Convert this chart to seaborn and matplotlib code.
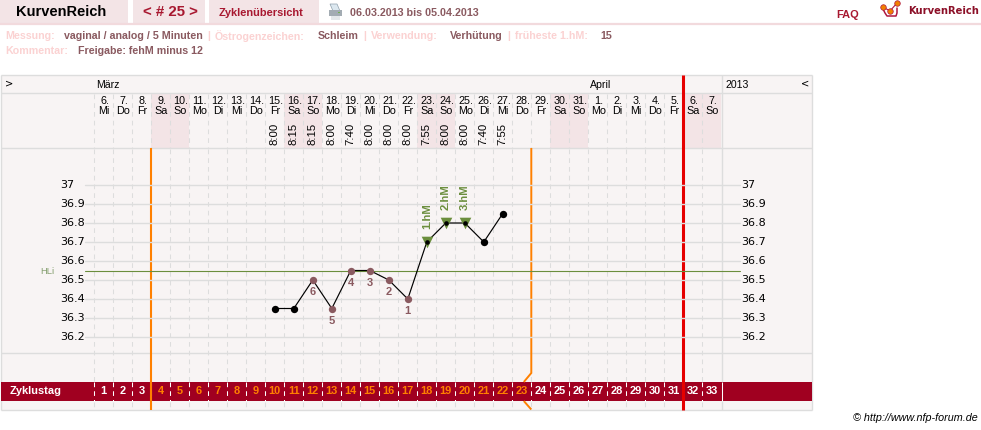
import matplotlib
matplotlib.use("Agg")
import matplotlib.pyplot as plt
import matplotlib.transforms as mtrans
from matplotlib.patches import Rectangle, Polygon
import pandas as pd
import seaborn as sns

sns.set_theme(style="white")
plt.rcParams["font.family"] = ["Liberation Sans", "DejaVu Sans"]

# Cycle chart values
cycle_days = list(range(1, 34))
dates = [6, 7, 8, 9, 10, 11, 12, 13, 14, 15, 16, 17, 18, 19, 20, 21, 22, 23, 24, 25, 26, 27, 28, 29, 30, 31,
         1, 2, 3, 4, 5, 6, 7]
weekdays = ["Mi", "Do", "Fr", "Sa", "So", "Mo", "Di"] * 4 + ["Mi", "Do", "Fr", "Sa", "So"]
measured_days = [10, 11, 12, 13, 14, 15, 16, 17, 18, 19, 20, 21, 22]
temperatures = [36.35, 36.35, 36.5, 36.35, 36.55, 36.55, 36.5, 36.4, 36.7, 36.8, 36.8, 36.7, 36.85]
times = ["8:00", "8:15", "8:15", "8:00", "7:40", "8:00", "8:00", "8:00", "7:55", "8:00", "8:00", "7:40", "7:55"]
kinds = ["plain", "plain", "low", "low", "low", "low", "low", "low", "high", "high", "high", "plain", "plain"]
low_labels = {12: "6", 13: "5", 14: "4", 15: "3", 16: "2", 17: "1"}
high_labels = {18: "1.hM", 19: "2.hM", 20: "3.hM"}
cover_line = 36.55
temp_ticks = [37, 36.9, 36.8, 36.7, 36.6, 36.5, 36.4, 36.3, 36.2]
first_fertile, last_fertile = 4, 23
cycle_end = 31

W, H = 981, 430
GRID = "#dddddd"
PANEL = "#f8f4f4"
PINK = "#f3e4e6"
BAND = "#a00020"
ORANGE = "#ff8000"
RED = "#e60000"
GREEN = "#6b8e3d"
BROWN = "#8a5a60"
FAINT = "#fbd2d2"
NARROW = ["Liberation Sans Narrow", "Liberation Sans"]
DASH = (0, (4.5, 3.9))

fig = plt.figure(figsize=(W / 100, H / 100), dpi=100)

# Page furniture lives on a pixel-scaled layer
page = fig.add_axes([0, 0, 1, 1], zorder=0)
page.set_xlim(0, W)
page.set_ylim(H, 0)
page.axis("off")


def box(x0, y0, x1, y1, color, z=1):
    page.add_patch(Rectangle((x0, y0), x1 - x0, y1 - y0, fc=color, ec="none", zorder=z))


def hl(y, x0, x1, color=GRID, lw=1.0, z=2):
    page.plot([x0, x1], [y, y], color=color, lw=lw, zorder=z, solid_capstyle="butt")


def vl(x, y0, y1, color=GRID, lw=1.0, z=2, **kw):
    page.plot([x, x], [y0, y1], color=color, lw=lw, zorder=z, solid_capstyle="butt", **kw)


def txt(x, y, s, size=11, color="black", weight="normal", ha="left", **kw):
    page.text(x, y, s, fontsize=size * 0.72, color=color, weight=weight, ha=ha, va="center", zorder=6, **kw)


# Header tabs
box(0, 0, 128, 23, PINK)
box(133, 0, 205, 23, PINK)
box(209, 0, 319, 23, PINK)
hl(24, 0, W, color="#f2dadd", lw=1.6)
txt(16, 12.5, "KurvenReich", size=14.6, weight="bold")
txt(143, 12.5, "< # 25 >", size=15, color="#a81830", weight="bold")
txt(219, 12.5, "Zyklenübersicht", size=11, color="#a81830", weight="bold")
txt(350, 12.5, "06.03.2013 bis 05.04.2013", size=10.7, color=BROWN, weight="bold")
txt(836, 14.5, "FAQ", size=11, color="#a81830", weight="bold")
txt(908, 10.5, "KurvenReich", size=10, color="#8c1028", weight="bold", family="DejaVu Sans")

# Printer icon
page.add_patch(Polygon([(330, 4), (337, 4), (340, 11), (333, 11)], closed=True,
                       fc="#dce8f0", ec="#8fa0ac", lw=0.5, zorder=3))
box(328.5, 10, 342, 16, "#a3acb3", z=4)
box(331, 15.5, 340, 19.5, "#e4e8ea", z=4)
box(338, 11.5, 340, 13, "#6fb050", z=5)

# Logo glyph
page.plot([883, 885, 887, 896, 897, 897], [9, 13, 16, 16, 13, 8], color="#b01840", lw=1.1, zorder=3)
page.plot([883, 890, 897], [7, 11, 3], color="#b01840", lw=0.8, zorder=4)
page.scatter([883, 890, 897], [7, 11, 3], s=16, c="#f08000", ec="#b01840", lw=0.5, zorder=5)

# Measurement summary lines
summary = [
    (5, 36, "Messung:", FAINT), (64, 36, "vaginal / analog / 5 Minuten", BROWN), (207, 36, "|", FAINT),
    (215, 36, "Östrogenzeichen:", FAINT), (318, 36, "Schleim", BROWN), (363, 36, "|", FAINT),
    (371, 36, "Verwendung:", FAINT), (450, 36, "Verhütung", BROWN), (507, 36, "|", FAINT),
    (515, 36, "früheste 1.hM:", FAINT), (600, 36, "15", BROWN),
    (5, 51, "Kommentar:", FAINT), (78, 51, "Freigabe: fehM minus 12", BROWN),
]
for x, y, s, c in summary:
    txt(x, y, s, size=10.6, color=c, weight="bold")

# Chart panel
P_LEFT, P_RIGHT, P_TOP, P_BOTTOM = 0.5, 811.5, 75, 410
box(P_LEFT, P_TOP, P_RIGHT, P_BOTTOM, PANEL, z=0.5)
for y in (P_TOP, 93, 148, 353, P_BOTTOM):
    hl(y, P_LEFT, P_RIGHT)
for x in (P_LEFT, P_RIGHT):
    vl(x, P_TOP, P_BOTTOM)
vl(721.7, P_TOP, P_BOTTOM)

# Chart axes: one unit per cycle day horizontally, 19 px per 0.1 degree vertically
PX_DAY = 19.0
X0 = 84.8
ax = fig.add_axes([0, 0, 1, 1], zorder=1)
ax.set_xlim((0 - X0) / PX_DAY, (W - X0) / PX_DAY)
ax.set_ylim(37 - (H - 185) / 190, 37 + 185 / 190)
ax.patch.set_alpha(0)
ax.axis("off")


def day_px(d):
    return X0 + PX_DAY * d


# Month / year row
txt(5, 83, ">", size=10, family="DejaVu Sans")
txt(96, 85, "März", size=10.5)
txt(590, 85, "April", size=10.5)
txt(726, 85, "2013", size=10.5)
txt(801, 83, "<", size=10, family="DejaVu Sans")

# Day columns with weekend shading
for d, date, wd in zip(cycle_days, dates, weekdays):
    cx = day_px(d)
    if wd in ("Sa", "So"):
        box(cx - PX_DAY / 2, 93.7, cx + PX_DAY / 2, 147.5, PINK, z=1)
    txt(cx + 1, 101.5, f"{date}.", size=10.8, ha="center", family=NARROW)
    txt(cx + 0.5, 111, wd, size=10.8, ha="center", family=NARROW)
    # Column separators run through every row and turn white inside the band
    sep = cx - PX_DAY / 2
    vl(sep, 94, 147, lw=0.75, linestyle=DASH)
    vl(sep, 149, 382, lw=0.75, linestyle=DASH)
    vl(sep, 402, 410, lw=0.75, linestyle=DASH)
    vl(sep, 382, 401, color="white", lw=0.75, z=3.5, linestyle=DASH)
    # Cycle-day band numbers
    num_color = ORANGE if first_fertile <= d <= last_fertile else "white"
    txt(cx, 391.5, str(d), size=11, color=num_color, weight="bold", ha="center")

for d, t in zip(measured_days, times):
    page.text(day_px(d), 145, t, rotation=90, ha="center", va="bottom", fontsize=8.2,
              family=NARROW, color="black", zorder=6)

# Temperature grid and tick labels on both sides
for t in temp_ticks:
    ax.plot([(85 - X0) / PX_DAY, (740 - X0) / PX_DAY], [t, t], color=GRID, lw=1.0, zorder=1)
    y_px = 185 + (37 - t) * 190
    label = f"{t:g}"
    page.text(60, y_px, label, ha="left", va="center", fontsize=8, family="DejaVu Sans",
              color="black", zorder=6)
    page.text(741.5, y_px, label, ha="left", va="center", fontsize=8, family="DejaVu Sans",
              color="black", zorder=6)

# Cover line
ax.plot([(85 - X0) / PX_DAY, (740 - X0) / PX_DAY], [cover_line, cover_line], color=GREEN, lw=0.8, zorder=2)
txt(40, 271, "HLi", size=9.5, color="#86a070")

# Cycle band
box(0.5, 382, 811.5, 401, BAND, z=3)
txt(10, 391.5, "Zyklustag", size=11, color="white", weight="bold")
vl(721.7, 382, 401, color="white", lw=0.75, z=3.5)

# Fertile window boundaries
left_edge = day_px(first_fertile) - PX_DAY / 2
right_edge = day_px(last_fertile) + PX_DAY / 2
vl(left_edge, 148, 410, color=ORANGE, lw=1.5, z=3.6)
page.plot([right_edge, right_edge, right_edge - 7.5], [148, 373, 382], color=ORANGE, lw=1.4, zorder=3.6,
          solid_capstyle="butt", solid_joinstyle="miter")
page.plot([right_edge - 7.5, right_edge], [401, 409.5], color=ORANGE, lw=1.4, zorder=3.6,
          solid_capstyle="butt")

# Cycle end marker
end_edge = day_px(cycle_end) + PX_DAY / 2
vl(end_edge, P_TOP, P_BOTTOM, color=RED, lw=2.2, z=3.7)

# Temperature curve
curve = pd.DataFrame({"day": measured_days, "temp": temperatures, "kind": kinds})
sns.lineplot(data=curve, x="day", y="temp", color="black", lw=0.85, sort=False, estimator=None,
             ax=ax, zorder=4, legend=False)
sns.scatterplot(data=curve[curve.kind == "plain"], x="day", y="temp", color="black", s=28,
                linewidth=0, ax=ax, zorder=5, legend=False)
sns.scatterplot(data=curve[curve.kind == "low"], x="day", y="temp", color=BROWN, s=28,
                linewidth=0, ax=ax, zorder=5, legend=False)
sns.scatterplot(data=curve[curve.kind == "high"], x="day", y="temp", color=GREEN, marker="v", s=70,
                linewidth=0, ax=ax, zorder=5, legend=False)
sns.scatterplot(data=curve[curve.kind == "high"], x="day", y="temp", color="black", s=11,
                linewidth=0, ax=ax, zorder=6, legend=False)
ax.set_xlabel("")
ax.set_ylabel("")

# Point annotations
temp_by_day = dict(zip(measured_days, temperatures))
px_shift = mtrans.offset_copy(ax.transData, fig=fig, x=0, y=-12 * 0.72, units="points")
for d, s in low_labels.items():
    ax.text(d, temp_by_day[d], s, transform=px_shift, ha="center", va="center", color=BROWN,
            fontsize=8, weight="bold", zorder=6)
up_shift = mtrans.offset_copy(ax.transData, fig=fig, x=0, y=13 * 0.72, units="points")
for d, s in high_labels.items():
    ax.text(d, temp_by_day[d], s, transform=up_shift, ha="center", va="bottom", color=GREEN,
            fontsize=8.2, weight="bold", rotation=90, zorder=6)

# Credit line
txt(853, 418, "© http://www.nfp-forum.de", size=10.8, style="italic")

fig.savefig("out.png", dpi=100)
